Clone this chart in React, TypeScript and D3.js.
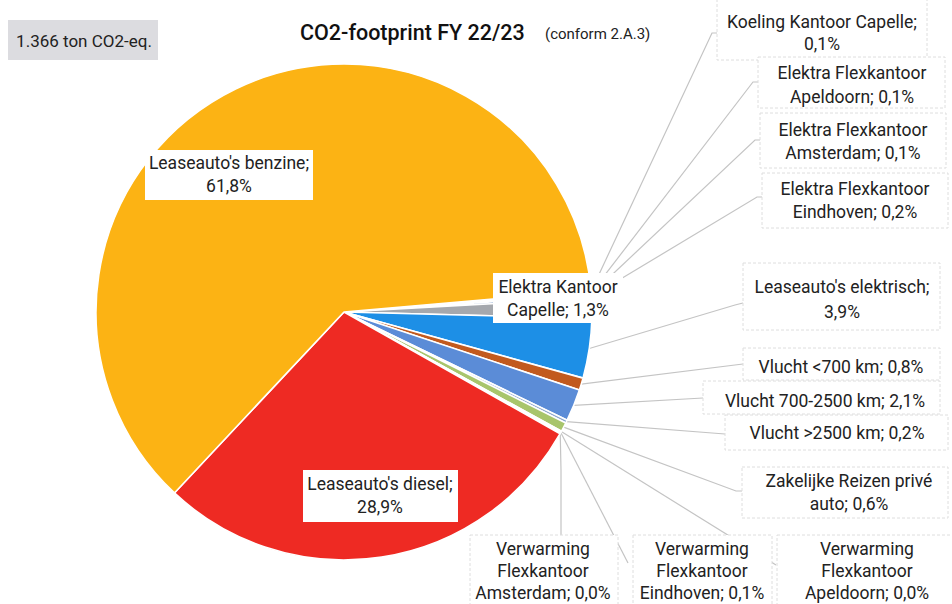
import React from "react";
import * as d3 from "d3";

// ---- data (clockwise order as drawn) ----
const categories = [
  "Koeling Kantoor Capelle",
  "Elektra Flexkantoor Apeldoorn",
  "Elektra Flexkantoor Amsterdam",
  "Elektra Flexkantoor Eindhoven",
  "Elektra Kantoor Capelle",
  "Leaseauto's elektrisch",
  "Vlucht <700 km",
  "Vlucht 700-2500 km",
  "Vlucht >2500 km",
  "Zakelijke Reizen privé auto",
  "Verwarming Flexkantoor Apeldoorn",
  "Verwarming Flexkantoor Eindhoven",
  "Verwarming Flexkantoor Amsterdam",
  "Leaseauto's diesel",
  "Leaseauto's benzine",
];
const values = [0.1, 0.1, 0.1, 0.2, 1.3, 3.9, 0.8, 2.1, 0.2, 0.6, 0.04, 0.1, 0.04, 28.9, 61.8];
const colors = [
  "#7f9fc9", "#9e6f3c", "#6c8e3f", "#3f6fb0", "#a5a8ad", "#1d8fe6", "#c25a1e",
  "#5b8cd7", "#8aa4cc", "#a8c56c", "#c9a66b", "#8c8c8c", "#b0b0b0", "#ee2a23", "#fcb314",
];
const totalLabel = "1.366 ton CO2-eq.";
const titleMain = "CO2-footprint FY 22/23";
const titleSub = "(conform 2.A.3)";

// ---- layout (positions only) ----
type Lay = { box: number[]; lines: string[]; ys: number[]; cx: number; anchor?: number[][]; inner?: boolean };
const layout: Lay[] = [
  { box: [717, -2, 210, 62], lines: ["Koeling Kantoor Capelle;", ""], ys: [22, 44], cx: 822, anchor: [[712, 33], [717, 33]] },
  { box: [758, 57, 187, 51], lines: ["Elektra Flexkantoor", "Apeldoorn;"], ys: [73, 97], cx: 852, anchor: [[753, 82], [758, 82]] },
  { box: [760, 113, 186, 55], lines: ["Elektra Flexkantoor", "Amsterdam;"], ys: [130, 153], cx: 853, anchor: [[755, 140], [760, 140]] },
  { box: [762, 173, 186, 55], lines: ["Elektra Flexkantoor", "Eindhoven;"], ys: [189, 212], cx: 855, anchor: [[757, 197], [762, 197]] },
  { box: [493, 273, 130, 50], lines: ["Elektra Kantoor", "Capelle;"], ys: [287, 310], cx: 558, inner: true },
  { box: [743, 263, 197, 67], lines: ["Leaseauto's elektrisch;", ""], ys: [287, 312], cx: 842, anchor: [[735, 305], [743, 303]] },
  { box: [743, 348, 197, 32], lines: ["Vlucht <700 km;"], ys: [367], cx: 841, anchor: [[743, 364]] },
  { box: [703, 381, 237, 33], lines: ["Vlucht 700-2500 km;"], ys: [401], cx: 825, anchor: [[703, 398]] },
  { box: [725, 415, 223, 35], lines: ["Vlucht >2500 km;"], ys: [433], cx: 837, anchor: [[725, 434]] },
  { box: [742, 467, 206, 51], lines: ["Zakelijke Reizen privé", "auto;"], ys: [481, 504], cx: 849, anchor: [[736, 491], [742, 491]] },
  { box: [777, 535, 178, 75], lines: ["Verwarming", "Flexkantoor", "Apeldoorn;"], ys: [549, 571, 593], cx: 867, anchor: [[776, 565]] },
  { box: [633, 535, 139, 75], lines: ["Verwarming", "Flexkantoor", "Eindhoven;"], ys: [549, 571, 593], cx: 702, anchor: [[628, 563]] },
  { box: [470, 535, 148, 75], lines: ["Verwarming", "Flexkantoor", "Amsterdam;"], ys: [549, 571, 593], cx: 543, anchor: [[561, 470], [561, 535]] },
  { box: [303, 470, 155, 52], lines: ["Leaseauto's diesel;", ""], ys: [484, 507], cx: 380, inner: true },
  { box: [145, 150, 168, 50], lines: ["Leaseauto's benzine;", ""], ys: [163, 186], cx: 229, inner: true },
];

const W = 952, H = 604;
const cx = 344, cy = 312, R = 248;
const deg = Math.PI / 180;
const FONT = "Roboto, 'Noto Sans', sans-serif";
const LABEL_SIZE = 17.5;

const fmt = (v: number) => v.toFixed(1).replace(".", ",") + "%";

export default function App() {
  const pie = d3
    .pie<number>()
    .sort(null)
    .value((d) => d)
    .startAngle(85 * deg)
    .endAngle(85 * deg + 2 * Math.PI);
  const arcs = pie(values);
  const arc = d3.arc<d3.PieArcDatum<number>>().innerRadius(0).outerRadius(R);

  return (
    <svg width={W} height={H} style={{ position: "absolute", left: 0, top: 0, background: "#fff" }}>
      {/* total box */}
      <rect x={8} y={20} width={150} height={40} fill="#dcdce0" />
      <text x={84} y={41} textAnchor="middle" dominantBaseline="central" fontFamily={FONT} fontSize={17} fill="#222">
        {totalLabel}
      </text>
      {/* title */}
      <text x={300} y={32} dominantBaseline="central" fontFamily={FONT} fontSize={21.5} fontWeight={500} fill="#111">
        {titleMain}
      </text>
      <text x={545} y={34} dominantBaseline="central" fontFamily={FONT} fontSize={15} fill="#222">
        {titleSub}
      </text>

      {/* leader lines */}
      <g stroke="#c4c4c4" strokeWidth={1.2} fill="none">
        {arcs.map((a, i) => {
          const L = layout[i];
          if (!L.anchor) return null;
          const m = (a.startAngle + a.endAngle) / 2;
          const p0 = [cx + R * Math.sin(m), cy - R * Math.cos(m)];
          const pts = [p0, ...L.anchor];
          return <polyline key={i} points={pts.map((p) => p.join(",")).join(" ")} />;
        })}
      </g>

      {/* pie */}
      <g transform={`translate(${cx},${cy})`}>
        {arcs.map((a, i) => (
          <path key={i} d={arc(a) || ""} fill={colors[i]} stroke="#fff" strokeWidth={1.6} strokeLinejoin="round" />
        ))}
      </g>

      {/* labels */}
      {arcs.map((a, i) => {
        const L = layout[i];
        const [bx, by, bw, bh] = L.box;
        const lines = L.lines.slice();
        const last = lines.length - 1;
        lines[last] = lines[last] ? lines[last] + " " + fmt(values[i]) : fmt(values[i]);
        return (
          <g key={i}>
            <rect
              x={bx}
              y={by}
              width={bw}
              height={bh}
              fill="#fff"
              stroke={L.inner ? "none" : "#dedede"}
              strokeDasharray={L.inner ? undefined : "3 2"}
              strokeWidth={1}
            />
            {lines.map((t, j) => (
              <text
                key={j}
                x={L.cx}
                y={L.ys[j]}
                textAnchor="middle"
                dominantBaseline="central"
                fontFamily={FONT}
                fontSize={LABEL_SIZE}
                fill="#222"
              >
                {t}
              </text>
            ))}
          </g>
        );
      })}
    </svg>
  );
}
